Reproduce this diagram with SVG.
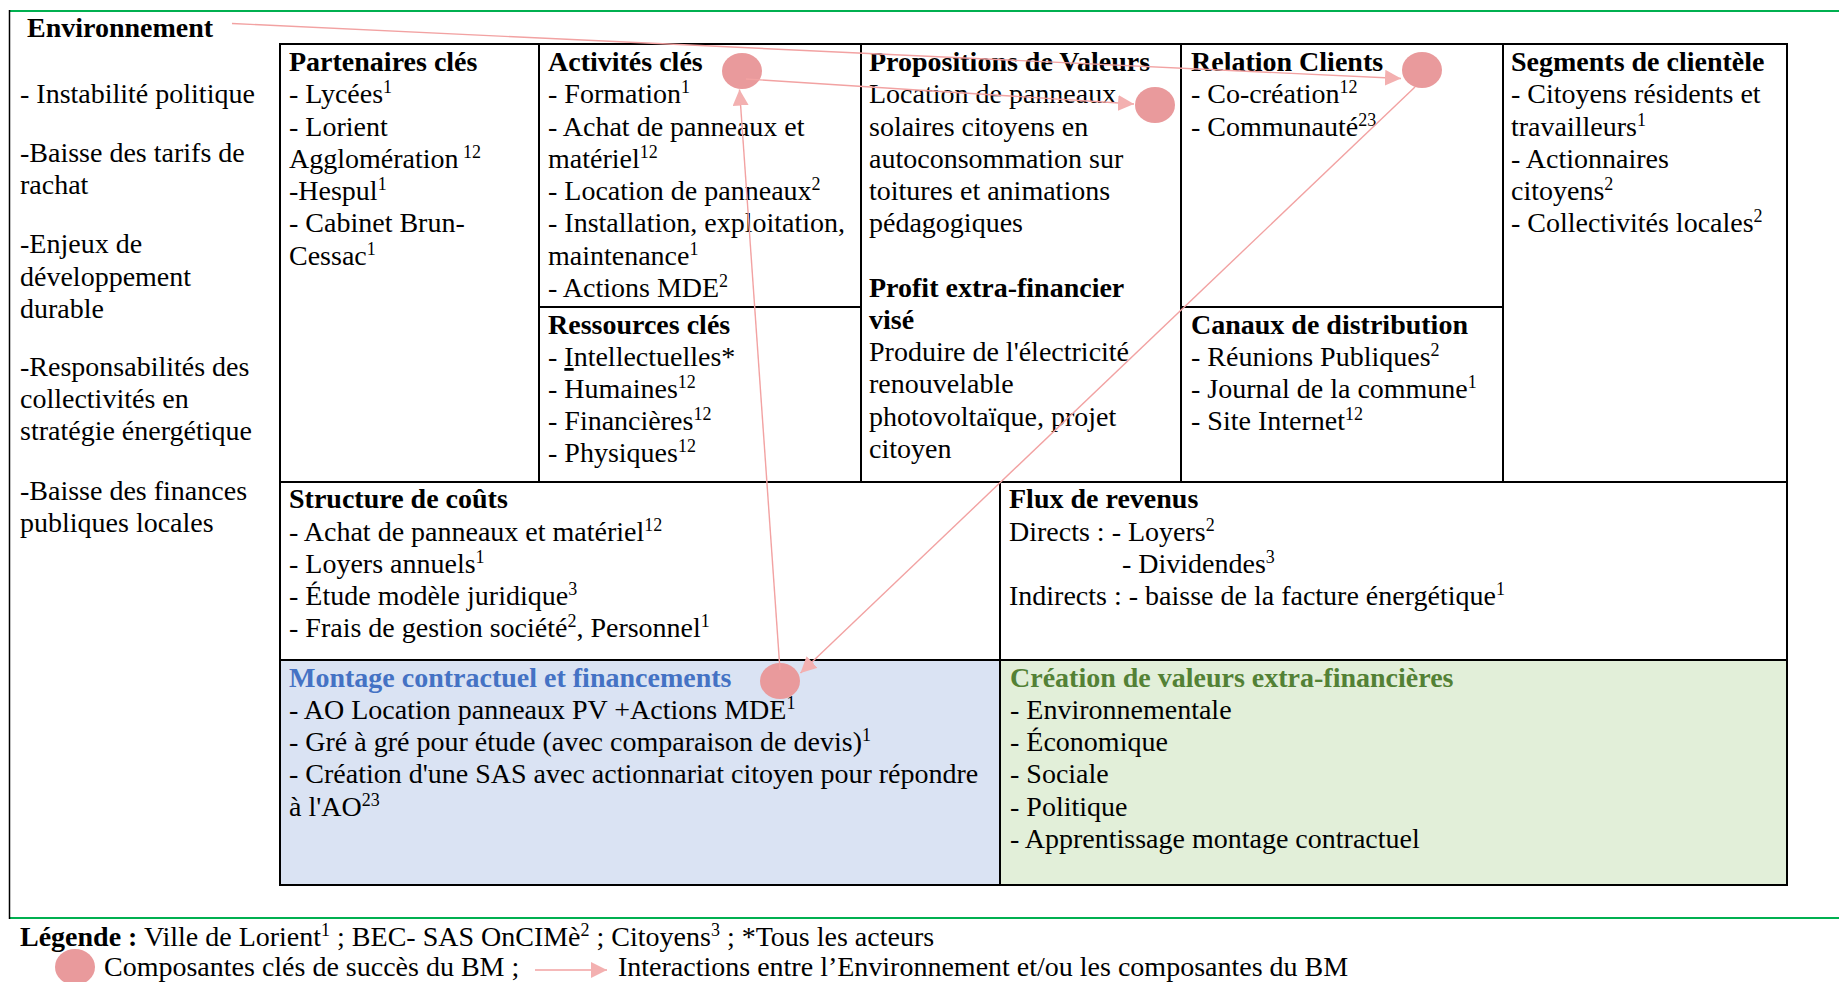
<svg xmlns="http://www.w3.org/2000/svg" width="1839" height="982" viewBox="0 0 1839 982">
<style>
text{font-family:"Liberation Serif","Times New Roman",serif;font-size:28px;fill:#000}
.b{font-weight:bold}
.s{font-size:18px}
.blue{fill:#4472C4;font-weight:bold}
.green{fill:#538135;font-weight:bold}
.grid{stroke:#000;stroke-width:2;fill:none}
.frame{stroke:#00B050;stroke-width:2}
.dot{fill:#E99A9C}
.con{stroke:#F2A2A2;stroke-width:1.4;fill:none}
</style>
<defs>
<marker id="ah" viewBox="0 0 16 16" refX="16" refY="8" markerWidth="16" markerHeight="16" orient="auto" markerUnits="userSpaceOnUse">
<path d="M0,0 L16,8 L0,16 z" fill="#F3B0B0"/>
</marker>
</defs>
<rect width="1839" height="982" fill="#fff"/>
<g id="frame">
<line class="frame" x1="9" y1="11" x2="1839" y2="11"/>
<line class="frame" x1="9" y1="918" x2="1839" y2="918"/>
<line x1="9.5" y1="10" x2="9.5" y2="919" stroke="#000" stroke-width="1.5"/>
</g>
<g id="canvas-bg">
<rect x="280" y="660" width="720" height="225" fill="#DAE3F3"/>
<rect x="1000" y="660" width="787" height="225" fill="#E2EFD9"/>
</g>
<g id="grid" class="grid">
<rect x="280" y="44" width="1507" height="841"/>
<line x1="539" y1="44" x2="539" y2="482"/>
<line x1="861" y1="44" x2="861" y2="482"/>
<line x1="1181" y1="44" x2="1181" y2="482"/>
<line x1="1503" y1="44" x2="1503" y2="482"/>
<line x1="539" y1="307" x2="861" y2="307"/>
<line x1="1181" y1="307" x2="1503" y2="307"/>
<line x1="280" y1="482" x2="1787" y2="482"/>
<line x1="280" y1="660" x2="1787" y2="660"/>
<line x1="1000" y1="482" x2="1000" y2="885"/>
</g>
<g id="environnement">
<text x="27" y="37" class="b">Environnement</text>
<text x="20" y="103">- Instabilité politique</text>
<text x="20" y="162">-Baisse des tarifs de</text>
<text x="20" y="194">rachat</text>
<text x="20" y="253">-Enjeux de</text>
<text x="20" y="286">développement</text>
<text x="20" y="318">durable</text>
<text x="20" y="376">-Responsabilités des</text>
<text x="20" y="408">collectivités en</text>
<text x="20" y="440">stratégie énergétique</text>
<text x="20" y="500">-Baisse des finances</text>
<text x="20" y="532">publiques locales</text>
</g>
<g id="partenaires">
<text x="289" y="71" class="b">Partenaires clés</text>
<text x="289" y="103">- Lycées<tspan class="s" dy="-10">1</tspan></text>
<text x="289" y="136">- Lorient</text>
<text x="289" y="168">Agglomération<tspan class="s" dy="-10"> 12</tspan></text>
<text x="289" y="200">-Hespul<tspan class="s" dy="-10">1</tspan></text>
<text x="289" y="232">- Cabinet Brun-</text>
<text x="289" y="265">Cessac<tspan class="s" dy="-10">1</tspan></text>
</g>
<g id="activites">
<text x="548" y="71" class="b">Activités clés</text>
<text x="548" y="103">- Formation<tspan class="s" dy="-10">1</tspan></text>
<text x="548" y="136">- Achat de panneaux et</text>
<text x="548" y="168">matériel<tspan class="s" dy="-10">12</tspan></text>
<text x="548" y="200">- Location de panneaux<tspan class="s" dy="-10">2</tspan></text>
<text x="548" y="232">- Installation, exploitation,</text>
<text x="548" y="265">maintenance<tspan class="s" dy="-10">1</tspan></text>
<text x="548" y="297">- Actions MDE<tspan class="s" dy="-10">2</tspan></text>
</g>
<g id="ressources">
<text x="548" y="334" class="b">Ressources clés</text>
<text x="548" y="366">- <tspan text-decoration="underline">I</tspan>ntellectuelles*</text>
<text x="548" y="398">- Humaines<tspan class="s" dy="-10">12</tspan></text>
<text x="548" y="430">- Financières<tspan class="s" dy="-10">12</tspan></text>
<text x="548" y="462">- Physiques<tspan class="s" dy="-10">12</tspan></text>
</g>
<g id="propositions">
<text x="869" y="71" class="b">Propositions de Valeurs</text>
<text x="869" y="103">Location de panneaux</text>
<text x="869" y="136">solaires citoyens en</text>
<text x="869" y="168">autoconsommation sur</text>
<text x="869" y="200">toitures et animations</text>
<text x="869" y="232">pédagogiques</text>
<text x="869" y="297" class="b">Profit extra-financier</text>
<text x="869" y="329" class="b">visé</text>
<text x="869" y="361">Produire de l'électricité</text>
<text x="869" y="393">renouvelable</text>
<text x="869" y="426">photovoltaïque, projet</text>
<text x="869" y="458">citoyen</text>
</g>
<g id="relation">
<text x="1191" y="71" class="b">Relation Clients</text>
<text x="1191" y="103">- Co-création<tspan class="s" dy="-10">12</tspan></text>
<text x="1191" y="136">- Communauté<tspan class="s" dy="-10">23</tspan></text>
</g>
<g id="canaux">
<text x="1191" y="334" class="b">Canaux de distribution</text>
<text x="1191" y="366">- Réunions Publiques<tspan class="s" dy="-10">2</tspan></text>
<text x="1191" y="398">- Journal de la commune<tspan class="s" dy="-10">1</tspan></text>
<text x="1191" y="430">- Site Internet<tspan class="s" dy="-10">12</tspan></text>
</g>
<g id="segments">
<text x="1511" y="71" class="b">Segments de clientèle</text>
<text x="1511" y="103">- Citoyens résidents et</text>
<text x="1511" y="136">travailleurs<tspan class="s" dy="-10">1</tspan></text>
<text x="1511" y="168">- Actionnaires</text>
<text x="1511" y="200">citoyens<tspan class="s" dy="-10">2</tspan></text>
<text x="1511" y="232">- Collectivités locales<tspan class="s" dy="-10">2</tspan></text>
</g>
<g id="couts">
<text x="289" y="508" class="b">Structure de coûts</text>
<text x="289" y="541">- Achat de panneaux et matériel<tspan class="s" dy="-10">12</tspan></text>
<text x="289" y="573">- Loyers annuels<tspan class="s" dy="-10">1</tspan></text>
<text x="289" y="605">- Étude modèle juridique<tspan class="s" dy="-10">3</tspan></text>
<text x="289" y="637">- Frais de gestion société<tspan class="s" dy="-10">2</tspan><tspan dy="10">, Personnel</tspan><tspan class="s" dy="-10">1</tspan></text>
</g>
<g id="revenus">
<text x="1009" y="508" class="b">Flux de revenus</text>
<text x="1009" y="541">Directs : - Loyers<tspan class="s" dy="-10">2</tspan></text>
<text x="1122" y="573">- Dividendes<tspan class="s" dy="-10">3</tspan></text>
<text x="1009" y="605">Indirects : - baisse de la facture énergétique<tspan class="s" dy="-10">1</tspan></text>
</g>
<g id="montage">
<text x="289" y="687" class="blue">Montage contractuel et financements</text>
<text x="289" y="719">- AO Location panneaux PV +Actions MDE<tspan class="s" dy="-10">1</tspan></text>
<text x="289" y="751">- Gré à gré pour étude (avec comparaison de devis)<tspan class="s" dy="-10">1</tspan></text>
<text x="289" y="783">- Création d'une SAS avec actionnariat citoyen pour répondre</text>
<text x="289" y="816">à l'AO<tspan class="s" dy="-10">23</tspan></text>
</g>
<g id="creation">
<text x="1010" y="687" class="green">Création de valeurs extra-financières</text>
<text x="1010" y="719">- Environnementale</text>
<text x="1010" y="751">- Économique</text>
<text x="1010" y="783">- Sociale</text>
<text x="1010" y="816">- Politique</text>
<text x="1010" y="848">- Apprentissage montage contractuel</text>
</g>
<g id="success-points">
<ellipse id="dot-activites" class="dot" cx="742" cy="71" rx="20" ry="18"/>
<ellipse id="dot-propositions" class="dot" cx="1155" cy="105" rx="20" ry="18"/>
<ellipse id="dot-relation" class="dot" cx="1422" cy="70" rx="20" ry="18"/>
<ellipse id="dot-montage" class="dot" cx="780" cy="681" rx="20" ry="18"/>
</g>
<g id="connectors">
<line class="con" x1="232" y1="23.5" x2="1401" y2="78.5" marker-end="url(#ah)"/>
<line class="con" x1="746" y1="79" x2="1134" y2="104" marker-end="url(#ah)"/>
<line class="con" x1="780" y1="670" x2="739.5" y2="89.5" marker-end="url(#ah)"/>
<line class="con" x1="1415" y1="87" x2="800.5" y2="673" marker-end="url(#ah)"/>
</g>
<g id="legend">
<text x="20" y="946"><tspan class="b">Légende :</tspan> Ville de Lorient<tspan class="s" dy="-10">1</tspan><tspan dy="10"> ; BEC- SAS OnCIMè</tspan><tspan class="s" dy="-10">2</tspan><tspan dy="10"> ; Citoyens</tspan><tspan class="s" dy="-10">3</tspan><tspan dy="10"> ; *Tous les acteurs</tspan></text>
<ellipse class="dot" cx="75" cy="967" rx="20" ry="18"/>
<text x="104" y="976">Composantes clés de succès du BM ;</text>
<line class="con" x1="535" y1="970" x2="607" y2="970" marker-end="url(#ah)"/>
<text x="618" y="976">Interactions entre l’Environnement et/ou les composantes du BM</text>
</g>
</svg>
